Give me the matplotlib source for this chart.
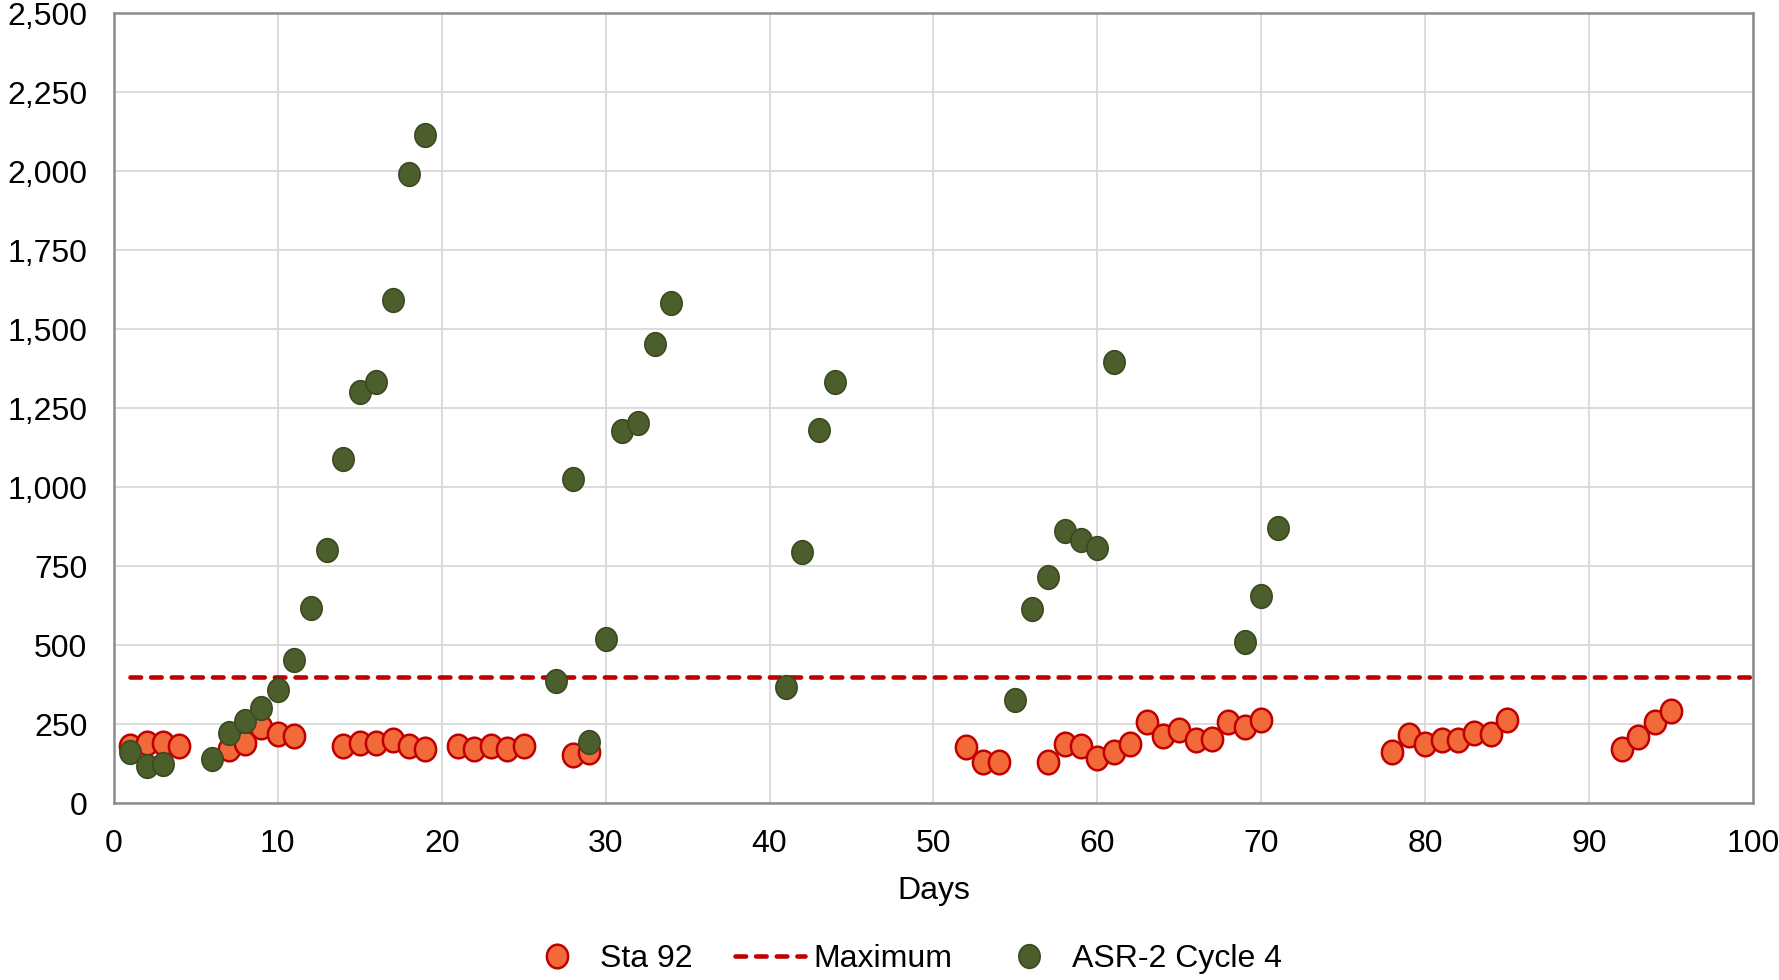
import numpy as np
import matplotlib
matplotlib.use("Agg")
import matplotlib.pyplot as plt
from matplotlib.path import Path
from matplotlib.ticker import FuncFormatter, MultipleLocator

plt.rcParams['font.family'] = ['Liberation Sans', 'DejaVu Sans']

# Station 92 readings
sta_days = [1, 2, 3, 4, 7, 8, 9, 10, 11, 14, 15, 16, 17, 18, 19, 21, 22, 23, 24, 25,
            28, 29, 52, 53, 54, 57, 58, 59, 60, 61, 62, 63, 64, 65, 66, 67, 68, 69, 70,
            78, 79, 80, 81, 82, 83, 84, 85, 92, 93, 94, 95]
sta_vals = [179, 190, 190, 179, 172, 190, 240, 219, 212, 179, 190, 190, 201, 179, 172,
            179, 172, 179, 172, 179, 151, 161, 176, 129, 129, 129, 186, 179, 143, 161,
            186, 255, 212, 230, 201, 204, 255, 240, 262, 161, 215, 186, 201, 201, 222,
            219, 262, 172, 208, 255, 290]

# ASR-2 cycle 4 readings
asr_days = [1, 2, 3, 6, 7, 8, 9, 10, 11, 12, 13, 14, 15, 16, 17, 18, 19,
            27, 28, 29, 30, 31, 32, 33, 34, 41, 42, 43, 44,
            55, 56, 57, 58, 59, 60, 61, 69, 70, 71]
asr_vals = [161, 118, 122, 140, 222, 258, 301, 359, 452, 617, 800, 1090, 1302, 1331,
            1592, 1991, 2113, 387, 1026, 194, 520, 1176, 1202, 1453, 1582, 366, 793,
            1180, 1334, 326, 613, 714, 861, 832, 807, 1395, 509, 656, 872]

# Maximum limit
max_days = [1, 100]
max_vals = [400, 400]

# slightly tall oval marker
t = np.linspace(0, 2 * np.pi, 61)
oval = Path(np.column_stack([np.cos(t) * 0.9, np.sin(t)]), closed=True)

fig = plt.figure(figsize=(17.79, 9.80), dpi=100)
ax = fig.add_axes([0.064, 0.1806, 0.9214, 0.806])

ms = 17
ax.plot(sta_days, sta_vals, linestyle='none', marker=oval, markersize=ms,
        markerfacecolor='#F26A3A', markeredgecolor='#C00000', markeredgewidth=1.8,
        label='Sta 92', zorder=3)
ax.plot(max_days, max_vals, linestyle=(0, (2.3, 2.2)), color='#C00000', linewidth=3.3,
        dash_capstyle='round', label='Maximum', zorder=2)
ax.plot(asr_days, asr_vals, linestyle='none', marker=oval, markersize=ms,
        markerfacecolor='#4B5E2B', markeredgecolor='#3A4A20', markeredgewidth=1.2,
        label='ASR-2 Cycle 4', zorder=4)

ax.set_xlim(0, 100)
ax.set_ylim(0, 2500)
ax.xaxis.set_major_locator(MultipleLocator(10))
ax.yaxis.set_major_locator(MultipleLocator(250))
ax.yaxis.set_major_formatter(FuncFormatter(lambda v, p: f"{int(v):,}"))
ax.grid(True, color='#D9D9D9', linewidth=1.3)
ax.set_axisbelow(True)
for s in ax.spines.values():
    s.set_color('#8C8C8C')
    s.set_linewidth(1.8)
ax.tick_params(length=0, labelsize=23, colors='black')
ax.tick_params(axis='y', pad=19)
ax.tick_params(axis='x', pad=19)
ax.set_xlabel('Days', fontsize=23, labelpad=12)

leg = fig.legend(loc='center', bbox_to_anchor=(0.507, 0.021), ncol=3, frameon=False,
                 fontsize=23, handlelength=2.2, columnspacing=1.3, handletextpad=0.25,
                 borderpad=0, borderaxespad=0)

fig.savefig('out.png', dpi=100)
